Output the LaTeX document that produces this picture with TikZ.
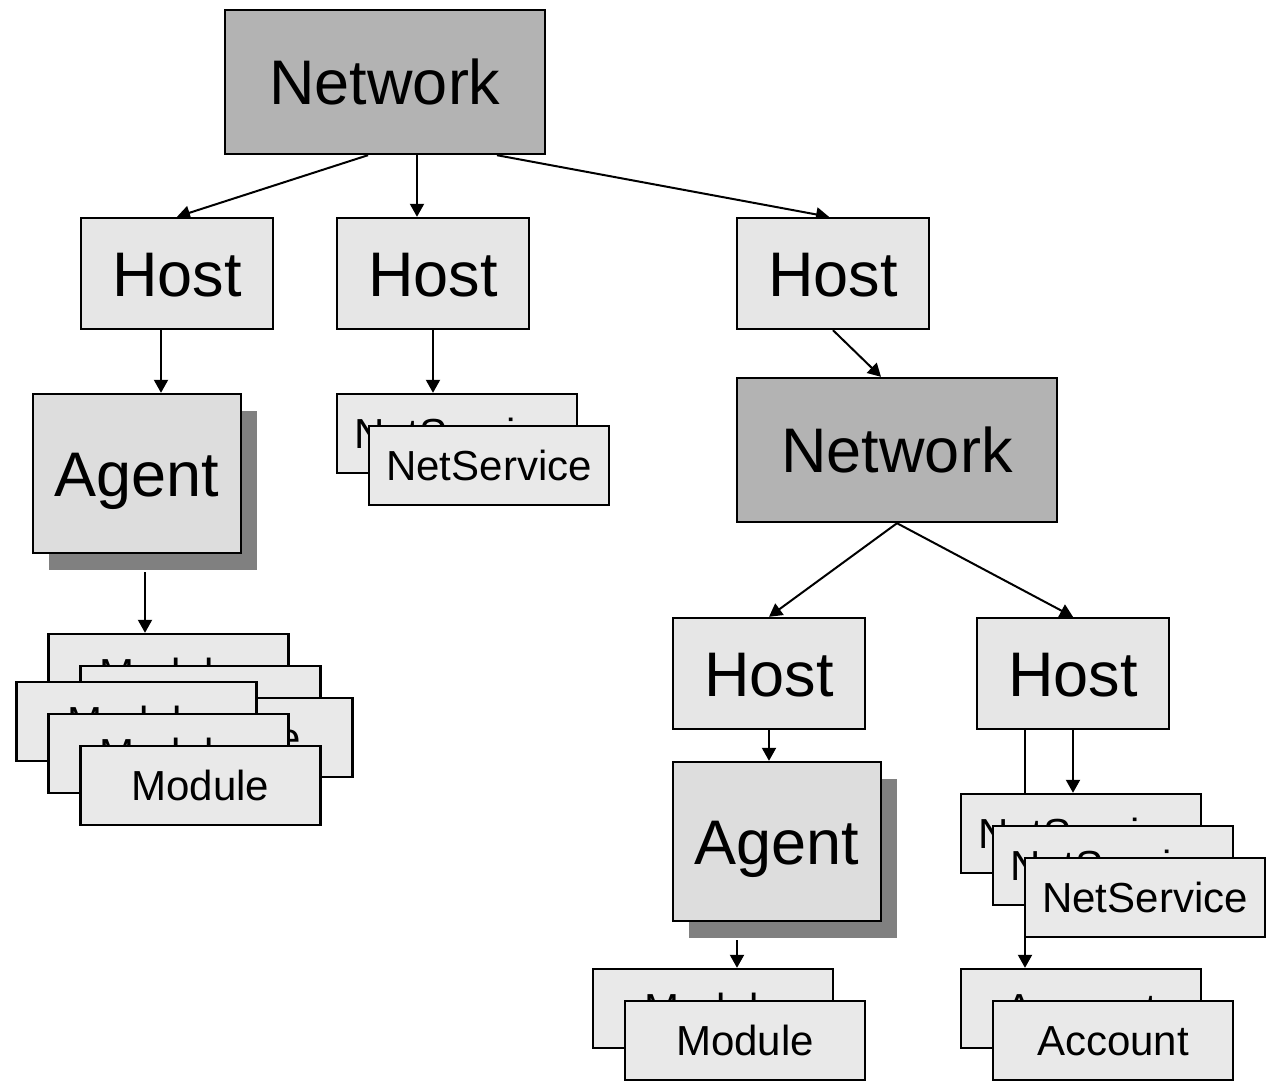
\documentclass[tikz,border=0pt]{standalone}
\usepackage{fontspec}
\setmainfont{Liberation Sans}
\usetikzlibrary{arrows.meta,shadows}

\definecolor{netgray}{HTML}{B3B3B3}
\definecolor{hostgray}{HTML}{E6E6E6}
\definecolor{agentgray}{HTML}{DDDDDD}
\definecolor{itemgray}{HTML}{E9E9E9}
\definecolor{shadowgray}{HTML}{808080}

\pgfdeclarelayer{bg}
\pgfsetlayers{bg,main}

\tikzset{
  box/.style={draw, line width=2.4pt, text depth=0pt, inner sep=0pt},
  bigtext/.style={font=\fontsize{63}{70}\selectfont, text height=45pt},
  smalltext/.style={font=\fontsize{42}{48}\selectfont, text height=30pt},
  netbox/.style={box, bigtext, fill=netgray, minimum width=320pt, minimum height=144pt},
  hostbox/.style={box, bigtext, fill=hostgray, minimum width=192pt, minimum height=111pt},
  agentbox/.style={box, bigtext, fill=agentgray, minimum width=208pt, minimum height=159pt,
    drop shadow={shadow xshift=16pt, shadow yshift=-17pt, fill=shadowgray, opacity=1}},
  itembox/.style={box, smalltext, fill=itemgray, minimum width=240pt, minimum height=79pt},
  link/.style={line width=2pt, -{Triangle[length=13pt,width=14pt]}}
}

\begin{document}
\begin{tikzpicture}[x=1pt,y=-1pt]
\useasboundingbox (0,0) rectangle (1269,1088);

% top level
\node[netbox] (net) at (385,82) {Network};
\node[hostbox] (hostA) at (177,273.5) {Host};
\node[hostbox] (hostB) at (433,273.5) {Host};
\node[hostbox] (hostC) at (833,273.5) {Host};

% left branch
\node[agentbox] (agentA) at (137,473.5) {Agent};
\node[itembox] (svcA1) at (457,433.5) {NetService};
\node[itembox] (svcA2) at (489,465.5) {NetService};

\node[itembox] (modA1) at (168.5,673.5) {Module};
\node[itembox] (modA2) at (200.5,705.5) {Module};
\node[itembox] (modA4) at (232.5,737.5) {Module};
\node[itembox] (modA3) at (136.5,721.5) {Module};
\node[itembox] (modA5) at (168.5,753.5) {Module};
\node[itembox] (modA6) at (200.5,785.5) {Module};

% right branch
\node[netbox] (net2) at (897,450) {Network};
\node[hostbox] (hostD) at (769,673.5) {Host};
\node[hostbox] (hostE) at (1073,673.5) {Host};
\node[agentbox] (agentB) at (777,841.5) {Agent};

\node[itembox] (modB1) at (713,1008.5) {Module};
\node[itembox] (modB2) at (745,1040.5) {Module};

\node[itembox] (svcB1) at (1081,833.5) {NetService};
\node[itembox] (svcB2) at (1113,865.5) {NetService};
\node[itembox] (svcB3) at (1145,897.5) {NetService};

\node[itembox] (accB1) at (1081,1008.5) {Account};
\node[itembox] (accB2) at (1113,1040.5) {Account};

% connectors
\begin{pgfonlayer}{bg}
\draw[link] ([xshift=-17pt]net.south) -- (hostA.north);
\draw[link] ([xshift=-16pt]hostB.north |- net.south) -- ([xshift=-16pt]hostB.north);
\draw[link] ([xshift=112pt]net.south) -- ([xshift=-4pt]hostC.north);
\draw[link] ([xshift=-16pt]hostA.south) -- ([xshift=-16pt]hostA.south |- agentA.north);
\draw[link] (hostB.south) -- (hostB.south |- svcA1.north);
\draw[link] ([xshift=8pt,yshift=-18pt]agentA.south) -- ([xshift=8pt]agentA.south |- modA1.north);

\draw[link] (hostC.south) -- ([xshift=-16pt]net2.north);
\draw[link] (net2.south) -- (hostD.north);
\draw[link] (net2.south) -- (hostE.north);
\draw[link] (hostD.south) -- (hostD.south |- agentB.north);
\draw[link] ([xshift=-40pt,yshift=-18pt]agentB.south) -- ([xshift=-40pt]agentB.south |- modB1.north);
\draw[link] (hostE.south) -- (hostE.south |- svcB1.north);
\draw[link] ([xshift=-48pt]hostE.south) -- ([xshift=-48pt]hostE.south |- accB1.north);
\end{pgfonlayer}

\end{tikzpicture}
\end{document}
